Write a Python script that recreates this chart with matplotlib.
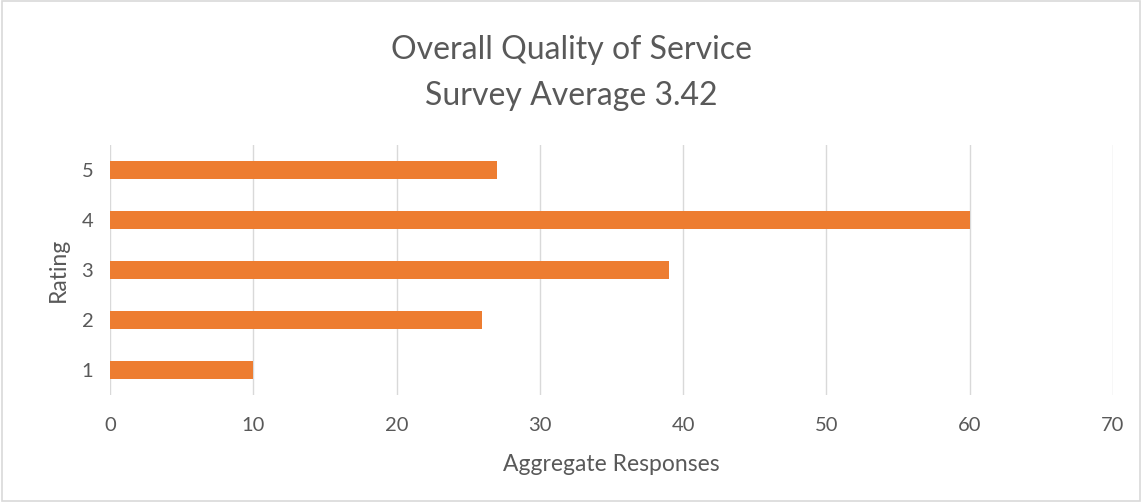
import matplotlib
matplotlib.use('Agg')
import matplotlib.pyplot as plt
from matplotlib.patches import Rectangle

plt.rcParams['font.family'] = ['Lato', 'DejaVu Sans']

# data
ratings = ['1', '2', '3', '4', '5']
responses = [10, 26, 39, 60, 27]
x_ticks = [0, 10, 20, 30, 40, 50, 60, 70]

text_color = '#595959'
bar_color = '#ED7D31'

fig = plt.figure(figsize=(11.43, 5.03), dpi=100)
ax = fig.add_axes([0.0962, 0.2147, 0.8775, 0.497])

ypos = list(range(1, len(ratings) + 1))
ax.barh(ypos, responses, height=0.35, color=bar_color, zorder=3)

ax.set_xlim(0, 70)
ax.set_ylim(0.5, 5.5)
ax.set_xticks(x_ticks)
ax.set_yticks(ypos)
ax.set_yticklabels(ratings)
ax.grid(axis='x', color='#D9D9D9', linewidth=1, zorder=0)
for s in ax.spines.values():
    s.set_visible(False)
ax.tick_params(length=0, labelsize=14.5, labelcolor=text_color)
ax.tick_params(axis='x', pad=16)
ax.tick_params(axis='y', pad=12)

ax.set_xlabel('Aggregate Responses', fontsize=16.5, color=text_color, labelpad=14)
ax.set_ylabel('Rating', fontsize=16.5, color=text_color, labelpad=9)

fig.text(0.5, 0.90, 'Overall Quality of Service', ha='center', va='center',
         fontsize=23, color=text_color)
fig.text(0.5, 0.81, 'Survey Average 3.42', ha='center', va='center',
         fontsize=23, color=text_color)

# light chart border
fig.patches.append(Rectangle((0.002, 0.004), 0.995, 0.994, transform=fig.transFigure,
                             fill=False, edgecolor='#D9D9D9', linewidth=1.2))

fig.savefig('out.png', dpi=100, facecolor='white')
